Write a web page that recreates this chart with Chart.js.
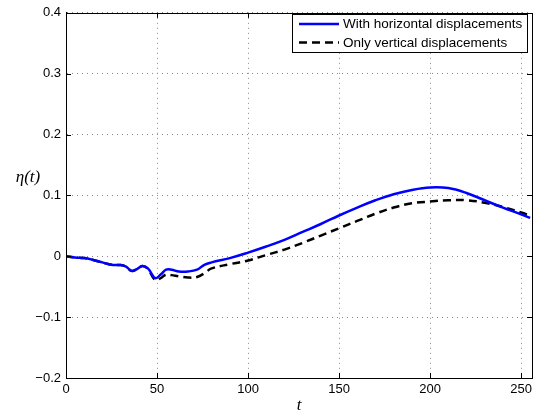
<!DOCTYPE html>
<html>
<head>
<meta charset="utf-8">
<script src="https://cdn.jsdelivr.net/npm/chart.js@4/dist/chart.umd.min.js"></script>
<style>
  html, body { margin: 0; padding: 0; background: #fff; }
  #wrap { width: 542px; height: 418px; position: relative; }
</style>
</head>
<body>
<div id="wrap"><canvas id="etaChart"></canvas></div>
<script>
// Data
const tHoriz = [0, 5, 10, 15, 20, 25, 30, 33, 36, 39, 42, 45, 49, 52, 55, 58, 62, 67, 72, 76, 80, 90, 100, 110, 120, 130, 140, 150, 160, 170, 180, 190, 200, 210, 220, 230, 240, 250, 255];
const etaHoriz = [0, -0.002, -0.003, -0.006, -0.010, -0.014, -0.0145, -0.017, -0.024, -0.021, -0.016, -0.020, -0.036, -0.030, -0.022, -0.022, -0.025, -0.025, -0.022, -0.014, -0.010, -0.003, 0.006, 0.016, 0.027, 0.040, 0.053, 0.067, 0.080, 0.092, 0.102, 0.109, 0.113, 0.112, 0.104, 0.092, 0.080, 0.069, 0.063];

const tVert = [0, 5, 10, 15, 20, 25, 30, 33, 36, 39, 42, 45, 49, 52, 55, 58, 62, 67, 72, 76, 80, 90, 100, 110, 120, 130, 140, 150, 160, 170, 180, 190, 200, 210, 220, 230, 240, 250, 255];
const etaVert = [0, -0.002, -0.003, -0.006, -0.010, -0.014, -0.0145, -0.017, -0.024, -0.021, -0.016, -0.021, -0.039, -0.036, -0.030, -0.031, -0.033, -0.035, -0.034, -0.028, -0.020, -0.013, -0.007, 0.002, 0.011, 0.022, 0.034, 0.046, 0.058, 0.070, 0.080, 0.087, 0.090, 0.092, 0.092, 0.088, 0.081, 0.072, 0.067];

const seriesLabels = ['With horizontal displacements', 'Only vertical displacements'];
const xTicks = [0, 50, 100, 150, 200, 250];
const yTicks = [-0.2, -0.1, 0, 0.1, 0.2, 0.3, 0.4];

const tickFont = { family: '"Liberation Sans", Arial, Helvetica, sans-serif', size: 13 };

function toPoints(xs, ys) {
    return xs.map((x, i) => ({ x: x, y: ys[i] }));
}

function fmtY(v) {
    const r = Math.round(v * 10) / 10;
    if (r === 0) return '0';
    return (r < 0 ? '\u2212' : '') + Math.abs(r).toFixed(1);
}

// MATLAB-style box, inward ticks, legend and axis labels
const matlabFrame = {
    id: 'matlabFrame',
    afterDraw(chart) {
        const ctx = chart.ctx;
        const a = chart.chartArea;
        const xs = chart.scales.x, ys = chart.scales.y;
        ctx.save();
        ctx.strokeStyle = '#000';
        ctx.lineWidth = 1;
        ctx.setLineDash([]);
        ctx.strokeRect(Math.round(a.left) + 0.5, Math.round(a.top) + 0.5,
            Math.round(a.right - a.left), Math.round(a.bottom - a.top));

        // inward ticks
        const tl = 5;
        ctx.beginPath();
        xTicks.forEach(v => {
            const px = Math.round(xs.getPixelForValue(v)) + 0.5;
            ctx.moveTo(px, a.bottom); ctx.lineTo(px, a.bottom - tl);
            ctx.moveTo(px, a.top); ctx.lineTo(px, a.top + tl);
        });
        yTicks.forEach(v => {
            const py = Math.round(ys.getPixelForValue(v)) + 0.5;
            ctx.moveTo(a.left, py); ctx.lineTo(a.left + tl, py);
            ctx.moveTo(a.right, py); ctx.lineTo(a.right - tl, py);
        });
        ctx.stroke();

        // legend
        const lx = 292, ly = 14, lw = 235, lh = 38;
        ctx.fillStyle = '#fff';
        ctx.fillRect(lx, ly, lw, lh);
        ctx.strokeRect(lx + 0.5, ly + 0.5, lw, lh);
        ctx.font = '13.5px "Liberation Sans", Arial, Helvetica, sans-serif';
        ctx.textBaseline = 'middle';
        ctx.textAlign = 'left';
        chart.data.datasets.forEach((ds, i) => {
            const yy = ly + 10 + i * 18.5;
            ctx.beginPath();
            ctx.strokeStyle = ds.borderColor;
            ctx.lineWidth = 2.5;
            ctx.setLineDash(ds.borderDash || []);
            ctx.moveTo(lx + 7, yy);
            ctx.lineTo(lx + 47, yy);
            ctx.stroke();
            ctx.setLineDash([]);
            ctx.fillStyle = '#000';
            ctx.fillText(ds.label, lx + 51, yy + 0.5);
        });

        // axis labels
        ctx.fillStyle = '#000';
        ctx.font = 'italic 17px "Liberation Serif", "Times New Roman", serif';
        ctx.textAlign = 'center';
        ctx.fillText('t', (a.left + a.right) / 2, 406);
        ctx.fillText('\u03b7(t)', 28, 178);
        ctx.restore();
    }
};

const ctx = document.getElementById('etaChart').getContext('2d');
const etaChart = new Chart(ctx, {
    type: 'line',
    data: {
        datasets: [{
            label: seriesLabels[0],
            data: toPoints(tHoriz, etaHoriz),
            borderColor: '#0000ff',
            borderWidth: 2.5,
            pointRadius: 0,
            tension: 0.4,
            fill: false
        }, {
            label: seriesLabels[1],
            data: toPoints(tVert, etaVert),
            borderColor: '#000000',
            borderWidth: 2.5,
            borderDash: [8, 5],
            pointRadius: 0,
            tension: 0.4,
            fill: false
        }]
    },
    options: {
        responsive: true,
        maintainAspectRatio: false,
        animation: false,
        layout: { padding: { left: 0, right: 10, top: 8, bottom: 0 } },
        plugins: {
            legend: { display: false },
            tooltip: { enabled: false }
        },
        scales: {
            x: {
                type: 'linear',
                min: 0,
                max: 256,
                afterBuildTicks: (axis) => { axis.ticks = xTicks.map(v => ({ value: v })); },
                afterFit: (axis) => { axis.height = 40; },
                ticks: { color: '#000', font: tickFont, padding: 4, maxRotation: 0 },
                grid: { color: '#8a8a8a', lineWidth: 1, drawTicks: false },
                border: { display: true, color: '#000', width: 1, dash: [1, 4] }
            },
            y: {
                min: -0.2,
                max: 0.4,
                afterBuildTicks: (axis) => { axis.ticks = yTicks.map(v => ({ value: v })); },
                afterFit: (axis) => { axis.width = 66; },
                ticks: { color: '#000', font: tickFont, padding: 5, callback: (v) => fmtY(v) },
                grid: { color: '#8a8a8a', lineWidth: 1, drawTicks: false },
                border: { display: true, color: '#000', width: 1, dash: [1, 4] }
            }
        }
    },
    plugins: [matlabFrame]
});
</script>
</body>
</html>
